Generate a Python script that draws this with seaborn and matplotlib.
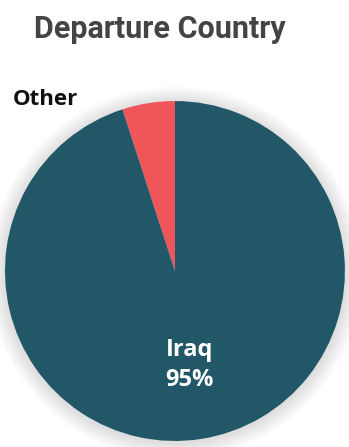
import matplotlib
matplotlib.use("Agg")
import matplotlib.pyplot as plt
from matplotlib import font_manager as fm
from matplotlib.patches import Circle
import seaborn as sns

categories = ["Other", "Iraq"]
shares = [5, 95]
colors = ["#f0555a", "#225768"]
title = "Departure Country"

sns.set_theme(style="white")
plt.rcParams['font.family'] = ['Open Sans', 'DejaVu Sans']

names = {f.name for f in fm.fontManager.ttflist}
title_font = 'Liberation Sans Narrow' if 'Liberation Sans Narrow' in names else 'Roboto'

fig = plt.figure(figsize=(3.49, 4.47), dpi=100)
fig.patch.set_facecolor("white")
ax = fig.add_axes([0.0143, 0.0134, 0.974, 0.7606])

# soft shadow
for k in range(8):
    ax.add_patch(Circle((0.0, -0.01), 1.0 + 0.012 * (k + 1), color="#000000",
                        alpha=0.016, lw=0, zorder=0, clip_on=False))

wedges, texts = ax.pie(shares, colors=colors, startangle=90, counterclock=True,
                       labels=[None, f"{categories[1]}\n{shares[1]}%"],
                       labeldistance=0.56, radius=1.0,
                       wedgeprops=dict(linewidth=0),
                       textprops=dict(color="white", fontsize=17, fontweight="bold",
                                      ha="center", va="center", linespacing=1.35))
for w in wedges:
    w.set_zorder(2)
for t in texts:
    t.set_zorder(3)
ax.set_xlim(-1, 1)
ax.set_ylim(-1, 1)
ax.set_aspect("equal")
ax.axis("off")

ax.text(-0.76, 1.01, categories[0], ha="center", va="center", fontsize=16,
        fontweight="bold", color="#111111", clip_on=False, zorder=4)

fig.text(0.458, 0.935, title, ha="center", va="center", fontsize=22,
         fontweight="bold", color="#444444", family=[title_font, 'DejaVu Sans'])

fig.savefig("out.png", dpi=100)
